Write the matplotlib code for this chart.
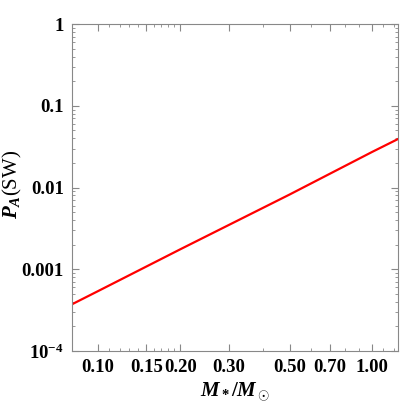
import numpy as np
import matplotlib
matplotlib.use("Agg")
import matplotlib.pyplot as plt
from matplotlib.ticker import FixedLocator, FixedFormatter, LogLocator, NullFormatter

# values (power law, straight in log-log)
mass = [0.08, 0.10, 0.20, 0.50, 1.00, 1.25]
prob = [3.7e-4, 5.4e-4, 1.76e-3, 8.2e-3, 2.72e-2, 3.95e-2]

xticks = [0.10, 0.15, 0.20, 0.30, 0.50, 0.70, 1.00]
xticklabels = ["0.10", "0.15", "0.20", "0.30", "0.50", "0.70", "1.00"]
xminor = [0.11, 0.12, 0.13, 0.14, 0.16, 0.17, 0.18, 0.19, 0.4, 0.6, 0.8, 0.9, 1.1, 1.2]
yticks = [1e-4, 1e-3, 1e-2, 1e-1, 1]
yticklabels = [r"$10^{-4}$", "0.001", "0.01", "0.1", "1"]

plt.rcParams["font.family"] = "Liberation Serif"
plt.rcParams["font.weight"] = "bold"
plt.rcParams["mathtext.fontset"] = "custom"
plt.rcParams["mathtext.rm"] = "Liberation Serif:bold"
plt.rcParams["mathtext.it"] = "Liberation Serif:bold:italic"
plt.rcParams["mathtext.bf"] = "Liberation Serif:bold"

fig = plt.figure(figsize=(4.03, 4.05), dpi=100)
ax = fig.add_axes([0.1787, 0.1333, 0.8089, 0.8074])

ax.plot(mass, prob, color="red", lw=1.6)
ax.set_xscale("log")
ax.set_yscale("log")
ax.set_xlim(0.0804, 1.244)
ax.set_ylim(1e-4, 1)

ax.xaxis.set_major_locator(FixedLocator(xticks))
ax.xaxis.set_major_formatter(FixedFormatter(xticklabels))
ax.xaxis.set_minor_locator(FixedLocator(xminor))
ax.xaxis.set_minor_formatter(NullFormatter())
ax.yaxis.set_major_locator(FixedLocator(yticks))
ax.yaxis.set_major_formatter(FixedFormatter(yticklabels))
ax.yaxis.set_minor_locator(LogLocator(base=10, subs=np.arange(2, 10), numticks=20))
ax.yaxis.set_minor_formatter(NullFormatter())

for s in ax.spines.values():
    s.set_color("#888888")
    s.set_linewidth(0.8)
ax.tick_params(which="both", direction="in", top=True, right=True, color="#888888",
               labelsize=13.5, pad=6)
ax.tick_params(which="major", length=5, width=0.8)
ax.tick_params(which="minor", length=2.5, width=0.6)
for lab in ax.get_xticklabels() + ax.get_yticklabels():
    lab.set_fontweight("bold")

ax.set_xlabel(r"$M_*/M_\odot$", fontsize=15)
ax.set_ylabel(r"$P_A$(SW)", fontsize=15)
ax.xaxis.set_label_coords(0.5, -0.092)
ax.yaxis.set_label_coords(-0.148, 0.51)

fig.savefig("out.png", dpi=100)
